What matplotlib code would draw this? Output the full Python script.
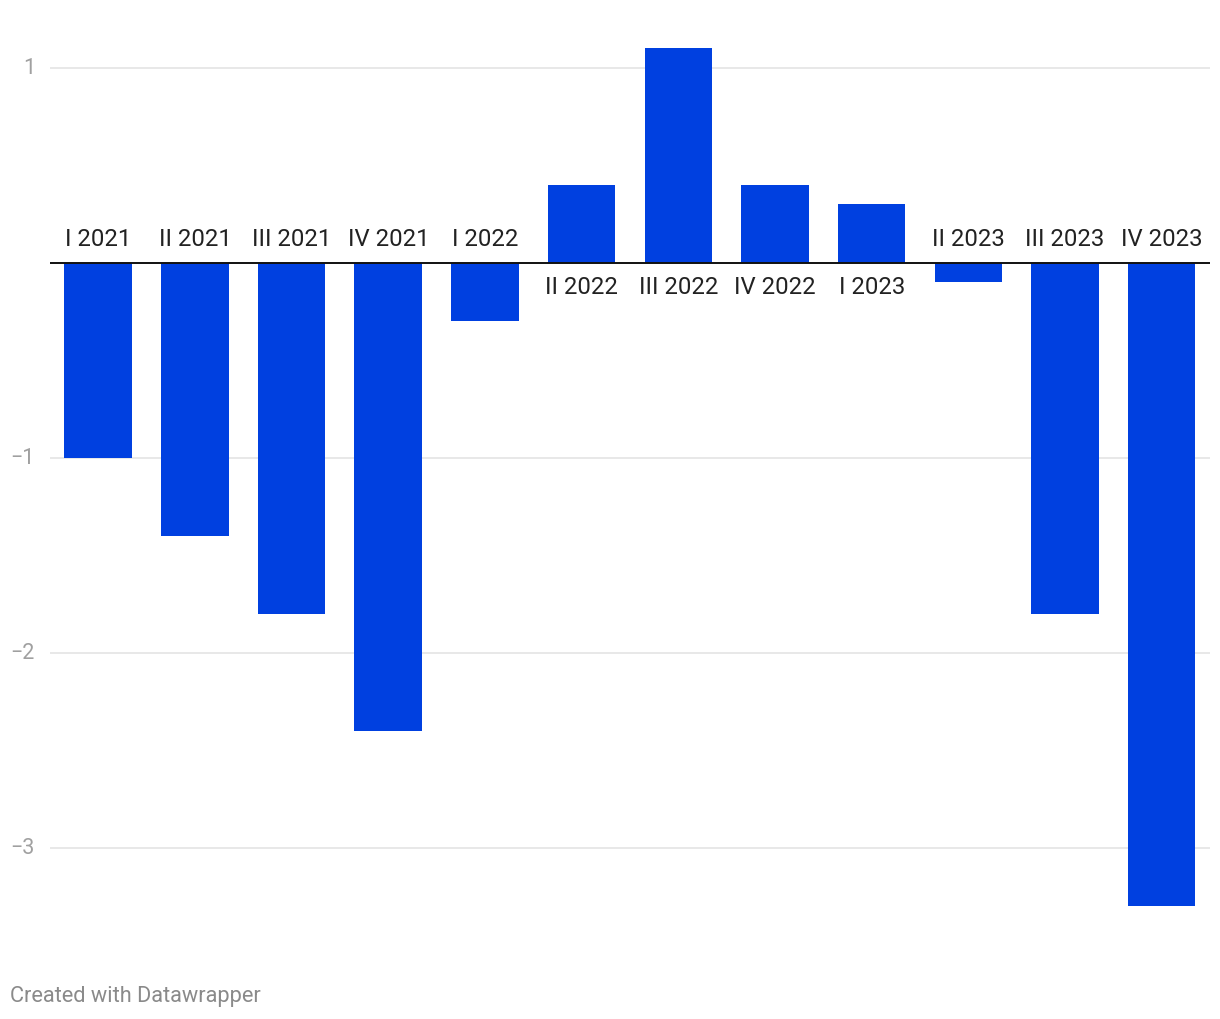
import matplotlib
matplotlib.use("Agg")
import matplotlib.pyplot as plt
from matplotlib import transforms

categories = ["I 2021", "II 2021", "III 2021", "IV 2021", "I 2022", "II 2022",
              "III 2022", "IV 2022", "I 2023", "II 2023", "III 2023", "IV 2023"]
values = [-1.0, -1.4, -1.8, -2.4, -0.3, 0.4, 1.1, 0.4, 0.3, -0.1, -1.8, -3.3]
yticks = [1, 0, -1, -2, -3]
ytick_labels = ["1", "", "\u22121", "\u22122", "\u22123"]

plt.rcParams['font.family'] = ['Roboto', 'DejaVu Sans']

W, H = 1220, 1020
fig = plt.figure(figsize=(W / 100, H / 100), dpi=100)
ax = fig.add_axes([50 / W, 1 - 930.5 / H, 1160 / W, 900 / H])

x = list(range(len(categories)))
ax.bar(x, values, width=0.70, color="#0040e0", zorder=2)

ax.set_xlim(-0.5, 11.5)
ax.set_ylim((263.5 - 930.5) / 195, (263.5 - 30.5) / 195)

for t in [1, -1, -2, -3]:
    ax.axhline(t, color="#e2e2e2", lw=1.1, zorder=1)
ax.axhline(0, color="#111111", lw=1.4, zorder=3)

for s in ax.spines.values():
    s.set_visible(False)
ax.set_xticks([])
ax.set_yticks([])

# y tick labels
trans = transforms.blended_transform_factory(fig.transFigure, ax.transData)
for t, lab in zip(yticks, ytick_labels):
    if lab:
        ax.text(35 / W, t, lab, transform=trans, ha="right", va="center",
                fontsize=15.5, color="#a0a0a0")

# category labels
off = 24 / 195
for xi, v, c in zip(x, values, categories):
    if v < 0:
        ax.text(xi, off, c, ha="center", va="center", fontsize=17.2, color="#222222", zorder=4)
    else:
        ax.text(xi, -off, c, ha="center", va="center", fontsize=17.2, color="#222222", zorder=4)

fig.text(10 / W, 1 - 997 / H, "Created with Datawrapper", ha="left", va="center",
         fontsize=15.7, color="#8a8a8a")

fig.savefig("out.png", dpi=100, facecolor="white")
